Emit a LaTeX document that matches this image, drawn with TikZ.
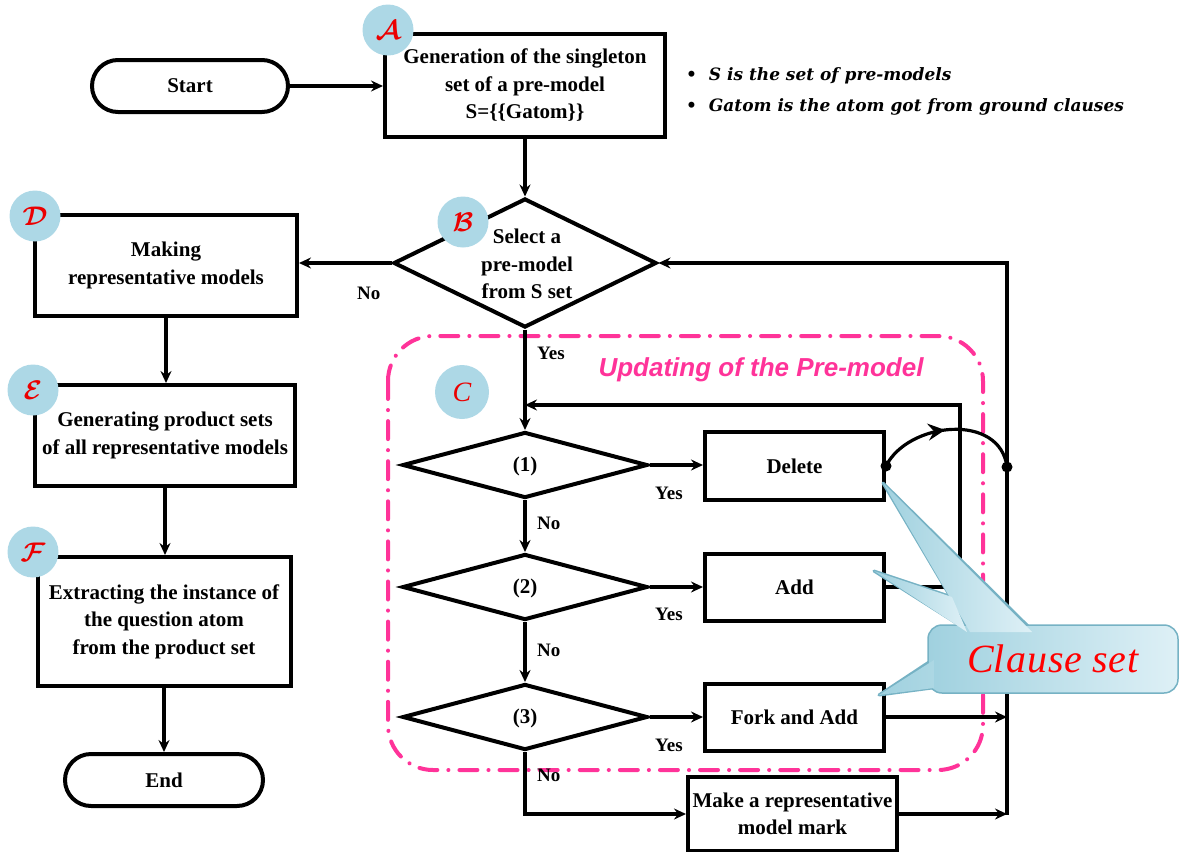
\documentclass[tikz,border=0pt]{standalone}
\usepackage{fontspec}
\usepackage{amsmath}
\usepackage{graphicx}
\usetikzlibrary{arrows.meta,shapes.geometric,shapes.misc,decorations.markings}
\setmainfont{Liberation Serif}
\newfontfamily\notefont{DejaVu Serif}
\newfontfamily\headfont{Liberation Sans}
\newcommand\boxtext{\bfseries\fontsize{21}{27.5}\selectfont}
\newcommand\labtext{\bfseries\fontsize{19}{22}\selectfont}
\newcommand\badgeletter[1]{\fontsize{20.74}{22}\selectfont\scalebox{1.3}{\boldmath$\mathcal{#1}$}}

\definecolor{badgeblue}{RGB}{173,216,230}
\definecolor{badgered}{RGB}{235,0,0}
\definecolor{framepink}{RGB}{255,51,153}
\definecolor{calloutedge}{RGB}{118,178,196}
\definecolor{calloutdark}{RGB}{160,209,223}
\definecolor{calloutlight}{RGB}{222,240,246}

\begin{document}
\begin{tikzpicture}[x=1pt,y=-1pt,
  every node/.style={inner sep=0pt},
  proc/.style={draw, line width=4pt, rectangle, align=center, font=\boxtext},
  term/.style={draw, line width=4pt, rounded rectangle, minimum width=196pt,
    minimum height=52pt, font=\boxtext},
  decision/.style={draw, line width=4pt, diamond, minimum width=245pt, minimum height=66pt},
  conn/.style={line width=3.2pt, line join=miter},
  arr/.style={conn, -{Stealth[length=12pt,width=11pt,inset=4pt]}},
  lab/.style={font=\labtext, anchor=west},
  badge/.style={circle, fill=badgeblue, minimum size=51pt, text=badgered},
  dot/.style={circle, fill=black, minimum size=11pt},
]
\useasboundingbox (0,0) rectangle (1179,852);

% dash-dot frame of the pre-model update stage
\draw[framepink, line width=4pt, line cap=round, rounded corners=45pt,
  dash pattern=on 18pt off 11pt on 0.1pt off 11pt] (388,336) rectangle (983,770);
\node[font=\headfont\bfseries\itshape\fontsize{26}{28}\selectfont, text=framepink]
  (stagetitle) at (761,370) {Updating of the Pre-model};

% main flow
\node[term] (start) at (190,86) {Start};
\node[proc, minimum width=280pt, minimum height=103pt] (genA) at (525,85.5)
  {Generation of the singleton\\set of a pre-model\\S=\{\{Gatom\}\}};
\node[font=\notefont\bfseries\itshape\fontsize{17}{31}\selectfont, anchor=west, align=left]
  (notes) at (686,91)
  {\textbullet\ \ S is the set of pre-models\\\textbullet\ \ Gatom is the atom got from ground clauses};

\node[decision, minimum width=263pt, minimum height=129pt] (selB) at (525,263) {};
\node[font=\boxtext, align=center] (selBtext) at (527,264) {Select a\\pre-model\\from S set};

\node[proc, minimum width=262pt, minimum height=101pt] (makeD) at (166,265.5)
  {Making\\representative models};
\node[proc, minimum width=260pt, minimum height=101pt] (prodE) at (165,435.5)
  {Generating product sets\\of all representative models};
\node[proc, minimum width=253pt, minimum height=129pt] (extF) at (164,621.5)
  {Extracting the instance of\\the question atom\\from the product set};
\node[term, minimum width=198pt] (finish) at (164,780) {End};

% update stage
\node[decision] (c1) at (525,465) {};
\node[font=\boxtext] (c1text) at (525,466) {(1)};
\node[decision] (c2) at (525,587) {};
\node[font=\boxtext] (c2text) at (525,588) {(2)};
\node[decision] (c3) at (525,717) {};
\node[font=\boxtext] (c3text) at (525,718) {(3)};

\node[proc, minimum width=179pt, minimum height=68pt] (del) at (794.5,466) {Delete};
\node[proc, minimum width=179pt, minimum height=67pt] (add) at (794.5,587) {Add};
\node[proc, minimum width=179pt, minimum height=67pt] (fork) at (794.5,717) {Fork and Add};
\node[proc, minimum width=209pt, minimum height=74pt] (mark) at (792.5,814)
  {Make a representative\\model mark};

% junction points of the return lines
\coordinate (rtop) at (1007,263);
\coordinate (rbot) at (1007,815);
\coordinate (ltop) at (960,405);
\coordinate (rjoin) at (1007,467);

% connectors
\draw[arr] (start.east) -- (genA.west |- start.east);
\draw[arr] (genA.south) -- (selB.north);
\draw[arr] (selB.west) -- (selB.west -| makeD.east);
\draw[arr] (makeD.south) -- (makeD.south |- prodE.north);
\draw[arr] (prodE.south) -- (prodE.south |- extF.north);
\draw[arr] (extF.south) -- (extF.south |- finish.north);

\draw[arr] (selB.south) -- (c1.north);
\draw[arr] (c1.south) -- (c2.north);
\draw[arr] (c2.south) -- (c3.north);
\draw[arr] (c3.south) -- (c3.south |- mark.west) -- (mark.west);

\draw[arr] (c1.east) -- (c1.east -| del.west);
\draw[arr] (c2.east) -- (c2.east -| add.west);
\draw[arr] (c3.east) -- (c3.east -| fork.west);

\draw[arr] (add.east) -- (add.east -| ltop) -- (ltop) -- (ltop -| selB.south);
\draw[arr] (fork.east) -- (fork.east -| rbot);
\draw[arr] (mark.east) -- (mark.east -| rbot);
\draw[arr] (rbot) -- (rtop) -- (selB.east);

% Delete jumps over the inner return line
\draw[conn, postaction={decorate}, decoration={markings,
    mark=at position 0.47 with {\arrow{Stealth[length=17pt,width=17pt,inset=6pt]}}}]
  (del.east) .. controls (908,422) and (1000,412) .. (rjoin);
\node[dot] (deldot) at (del.east) {};
\node[dot] (joindot) at (rjoin) {};

% branch labels
\node[lab] (yesB) at (537,353) {Yes};
\node[lab] (noB) at (357,293) {No};
\node[lab] (yes1) at (655,493) {Yes};
\node[lab] (no1) at (537,523) {No};
\node[lab] (yes2) at (655,614) {Yes};
\node[lab] (no2) at (537,650) {No};
\node[lab] (yes3) at (655,745) {Yes};
\node[lab] (no3) at (537,775) {No};

% step badges
\node[badge] (bA) at (388,30) {\badgeletter{A}};
\node[badge] (bB) at (463,222) {\badgeletter{B}};
\node[badge, minimum size=54pt] (bC) at (462,392)
  {\fontsize{28}{28}\selectfont\itshape C};
\node[badge] (bD) at (35,216) {\badgeletter{D}};
\node[badge] (bE) at (33,390) {\badgeletter{E}};
\node[badge] (bF) at (33,552) {\badgeletter{F}};

% callout with three pointers
\draw[calloutedge, line width=3pt, line join=round]
  (883,483) -- (970,630) -- (1032,630) -- cycle
  (874,571) -- (952,597) -- (967,630) -- cycle
  (879,695) -- (932,660) -- (932,688) -- cycle;
\node[draw=calloutedge, line width=1.5pt, rounded corners=14pt,
  left color=calloutdark, right color=calloutlight,
  minimum width=250pt, minimum height=68pt,
  font=\fontsize{40}{44}\selectfont\itshape, text=red] (clause) at (1053,659)
  {Cl\kern1pt a\kern1pt u\kern1pt s\kern1pt e\ s\kern1pt e\kern1pt t};
\shade[left color=calloutdark, right color=calloutlight]
  (883,483) -- (970,632) -- (1032,632) -- cycle;
\shade[left color=calloutdark, right color=calloutlight]
  (874,571) -- (952,597) -- (967,632) -- cycle;
\shade[left color=calloutdark, right color=calloutdark!80!calloutlight]
  (879,695) -- (934,660) -- (934,688) -- cycle;
\end{tikzpicture}
\end{document}
